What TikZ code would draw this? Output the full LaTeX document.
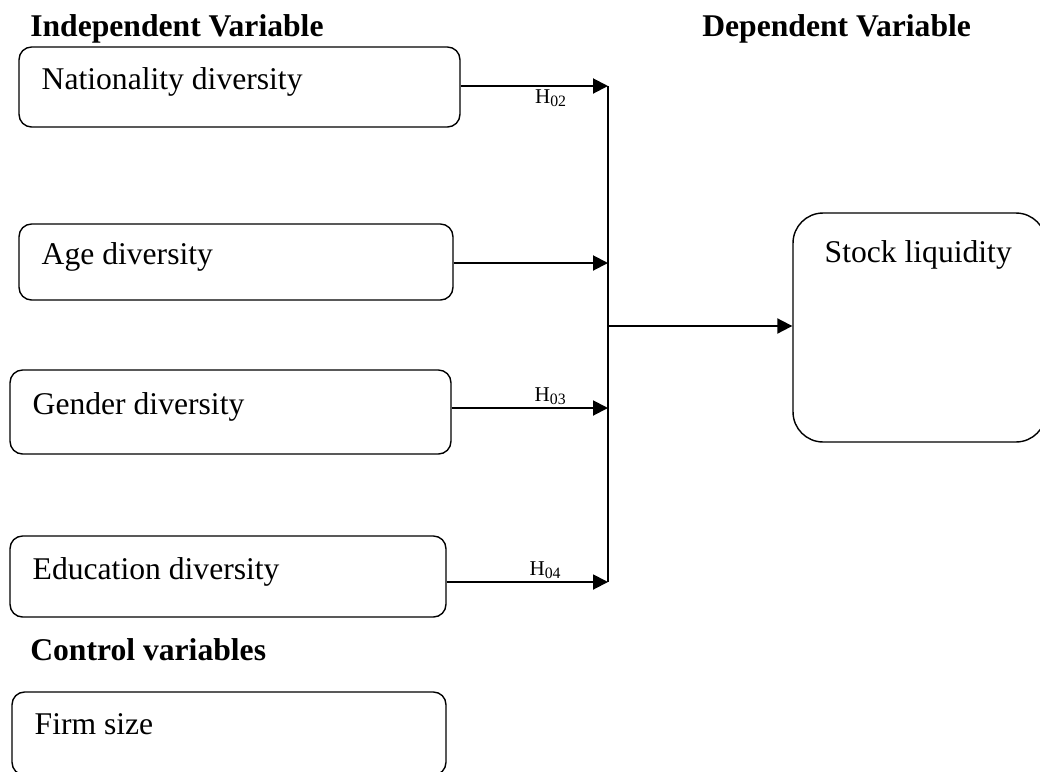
\documentclass[tikz,border=0pt]{standalone}
\usepackage{fontspec}
\setmainfont{Liberation Serif}
\usetikzlibrary{arrows.meta}

\begin{document}
\begin{tikzpicture}[x=0.02cm,y=-0.02cm,font=\fontsize{18}{22}\selectfont,
	varbox/.style={draw, line width=0.8pt, rounded corners=0.25cm, inner sep=0pt},
	boxtext/.style={anchor=west, inner sep=0pt, xshift=0.46cm, yshift=0.1cm},
	head/.style={anchor=base west, inner sep=0pt, font=\fontsize{18}{22}\selectfont\bfseries},
	link/.style={line width=1.1pt, -{Triangle[length=0.3cm,width=0.3cm]}},
	hyp/.style={font=\fontsize{12}{14}\selectfont, inner sep=1.5pt}]
	\useasboundingbox (0,0) rectangle (1040,771);
	% Titres
	\node[head] (hind) at (30,36) {Independent Variable};
	\node[head] (hdep) at (702,36) {Dependent Variable};
	\node[head] (hctl) at (30,660) {Control variables};
	% Variables
	\node[varbox, minimum width=8.82cm, minimum height=1.6cm, label={[boxtext]west:Nationality diversity}] (nat) at (239.5,87) {};
	\node[varbox, minimum width=8.68cm, minimum height=1.52cm, label={[boxtext]west:Age diversity}] (age) at (236,262) {};
	\node[varbox, minimum width=8.82cm, minimum height=1.68cm, label={[boxtext]west:Gender diversity}] (gen) at (230.5,412) {};
	\node[varbox, minimum width=8.72cm, minimum height=1.62cm, label={[boxtext]west:Education diversity}] (edu) at (228,576.5) {};
	\node[varbox, minimum width=8.68cm, minimum height=1.66cm, label={[boxtext, yshift=0.09cm]west:Firm size}] (firm) at (229,733.5) {};
	\node[varbox, rounded corners=0.6cm, minimum width=5.06cm, minimum height=4.58cm,
		label={[anchor=west, inner sep=0pt, xshift=0.64cm, yshift=-0.86cm]north west:Stock liquidity}] (liq) at (919.5,327.5) {};
	% Liaisons
	\coordinate (s1) at (608,86);
	\coordinate (s2) at (608,263);
	\coordinate (s3) at (608,408);
	\coordinate (s4) at (608,582);
	\coordinate (s5) at (608,326);
	\draw[line width=1.1pt] (s1) -- (s4);
	\draw[link] (nat.east |- s1) -- (s1) node[hyp, pos=0.61, below]{H\raisebox{-0.3ex}{\fontsize{9}{10}\selectfont 02}};
	\draw[link] (age.east |- s2) -- (s2);
	\draw[link] (gen.east |- s3) -- (s3) node[hyp, pos=0.63, above]{H\raisebox{-0.3ex}{\fontsize{9}{10}\selectfont 03}};
	\draw[link] (edu.east |- s4) -- (s4) node[hyp, pos=0.61, above]{H\raisebox{-0.3ex}{\fontsize{9}{10}\selectfont 04}};
	\draw[link] (s5) -- (s5 -| liq.west);
\end{tikzpicture}
\end{document}
